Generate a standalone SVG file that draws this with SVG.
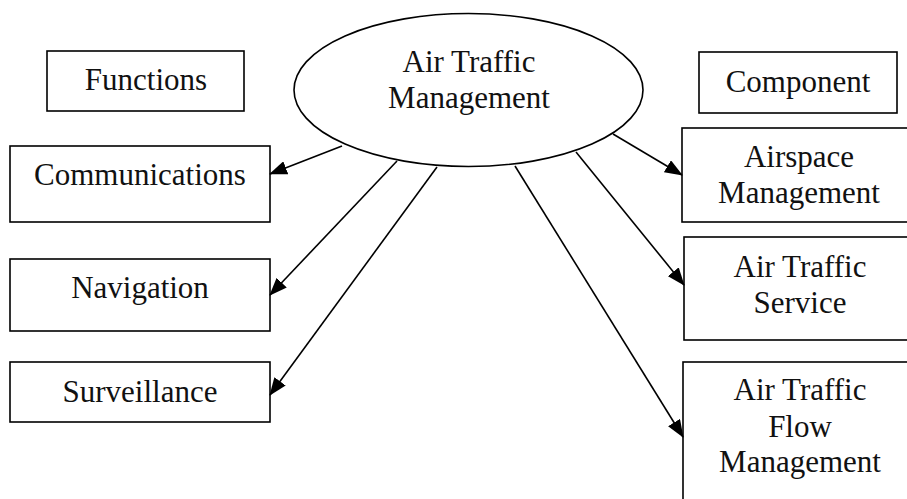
<svg xmlns="http://www.w3.org/2000/svg" width="907" height="499" viewBox="0 0 907 499">
  <style>
    .box { fill: none; stroke: #000; stroke-width: 1.6; }
    .hub { fill: none; stroke: #000; stroke-width: 1.6; }
    .lbl { font-family: "Liberation Serif", "Times New Roman", serif; font-size: 31px; fill: #111; text-anchor: middle; }
    .edge { fill: none; stroke: #000; stroke-width: 1.6; marker-end: url(#arrow); }
  </style>
  <defs>
    <marker id="arrow" markerUnits="userSpaceOnUse" markerWidth="18" markerHeight="14" refX="17" refY="7" orient="auto">
      <path d="M0,0 L18,7 L0,14 Z" fill="#000"/>
    </marker>
  </defs>
  <rect width="907" height="499" fill="#fff"/>

  <g id="hub">
    <ellipse class="hub" cx="468.5" cy="90" rx="174.5" ry="76.5"/>
    <text class="lbl" x="469" y="72">Air Traffic</text>
    <text class="lbl" x="469" y="108">Management</text>
  </g>

  <g id="functions">
    <rect class="box" x="47" y="51" width="197" height="60"/>
    <text class="lbl" x="146" y="90">Functions</text>
  </g>
  <g id="communications">
    <rect class="box" x="10" y="146" width="260" height="76"/>
    <text class="lbl" x="140" y="185">Communications</text>
  </g>
  <g id="navigation">
    <rect class="box" x="10" y="259" width="260" height="72"/>
    <text class="lbl" x="140" y="298">Navigation</text>
  </g>
  <g id="surveillance">
    <rect class="box" x="10" y="362" width="260" height="60"/>
    <text class="lbl" x="140" y="402">Surveillance</text>
  </g>

  <g id="component">
    <rect class="box" x="699" y="52" width="198" height="61"/>
    <text class="lbl" x="798" y="92">Component</text>
  </g>
  <g id="airspace-management">
    <rect class="box" x="682" y="128" width="240" height="94"/>
    <text class="lbl" x="799" y="167">Airspace</text>
    <text class="lbl" x="799" y="203">Management</text>
  </g>
  <g id="air-traffic-service">
    <rect class="box" x="684" y="237" width="240" height="103"/>
    <text class="lbl" x="800" y="277">Air Traffic</text>
    <text class="lbl" x="800" y="313">Service</text>
  </g>
  <g id="air-traffic-flow-management">
    <rect class="box" x="683" y="362" width="240" height="160"/>
    <text class="lbl" x="800" y="400">Air Traffic</text>
    <text class="lbl" x="800" y="437">Flow</text>
    <text class="lbl" x="800" y="472">Management</text>
  </g>

  <g id="connectors">
    <line class="edge" x1="342" y1="146" x2="270" y2="174"/>
    <line class="edge" x1="397" y1="161" x2="270" y2="295"/>
    <line class="edge" x1="437" y1="167" x2="270" y2="395"/>
    <line class="edge" x1="613" y1="134" x2="682" y2="175"/>
    <line class="edge" x1="576" y1="152" x2="684" y2="285"/>
    <line class="edge" x1="515" y1="166" x2="683" y2="437"/>
  </g>
</svg>
